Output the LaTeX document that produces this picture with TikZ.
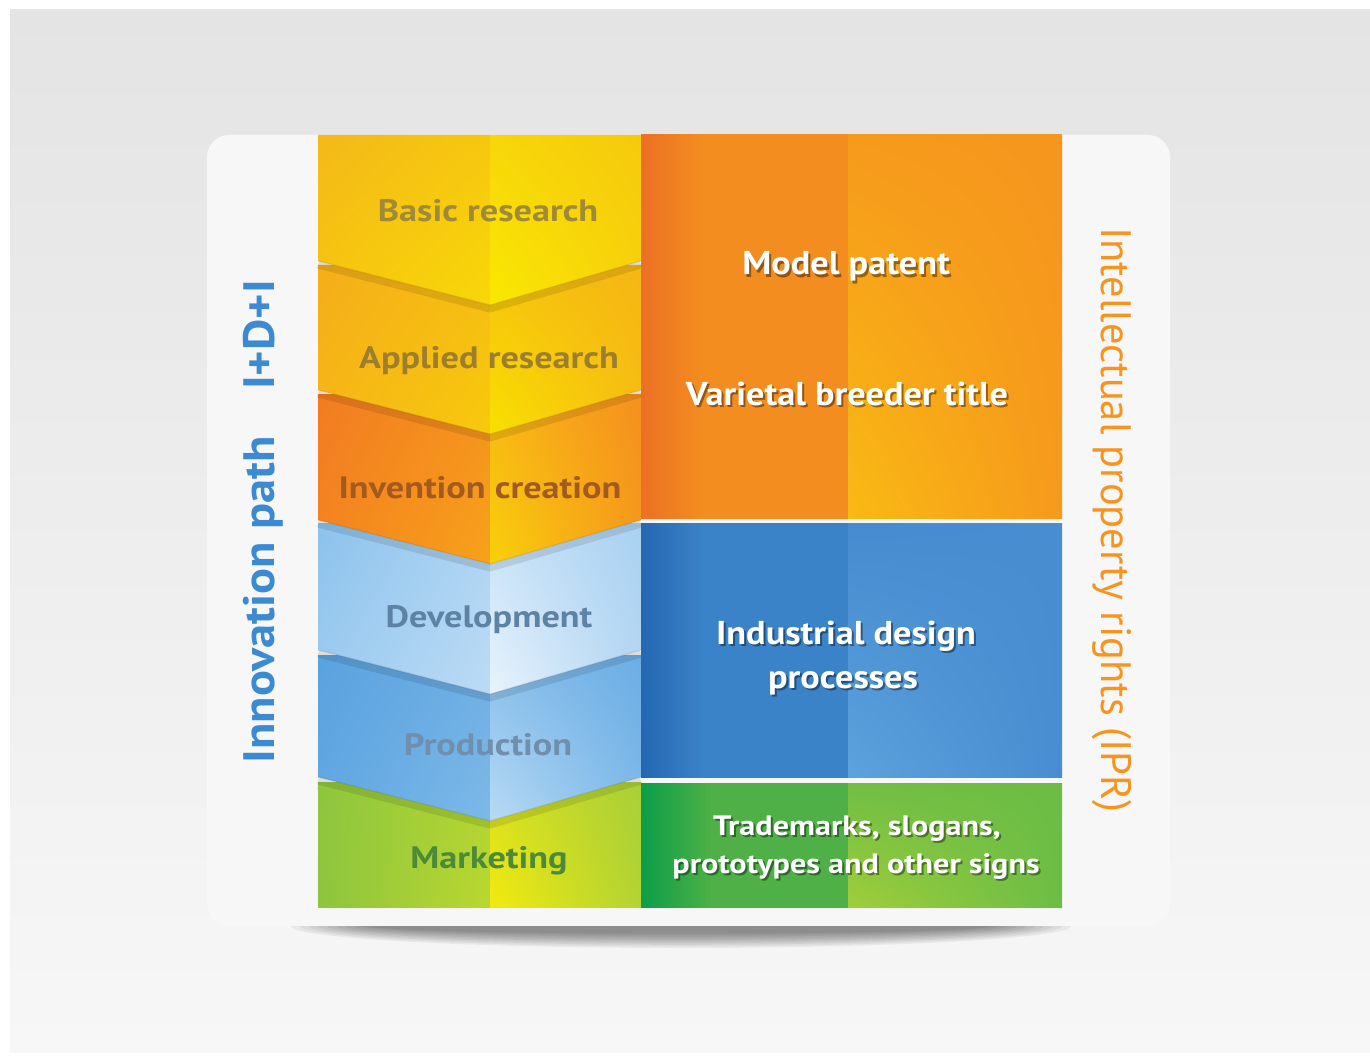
\documentclass[tikz,border=0pt]{standalone}
\usepackage{fontspec}
\setmainfont{PT Sans}
\newfontfamily\widesans[FakeStretch=1.17]{PT Sans}
\newfontfamily\midsans[FakeStretch=1.10]{PT Sans}
\newfontfamily\smallsans[FakeStretch=1.15]{PT Sans}
\usetikzlibrary{shadings}

% palette
\definecolor{pathblue}{HTML}{3B8AD2}
\definecolor{iprorange}{HTML}{F7941D}
\definecolor{cardwhite}{HTML}{F7F7F7}
\definecolor{orangeedge}{RGB}{236,112,36}
\definecolor{orangemain}{RGB}{243,141,32}
\definecolor{blueedge}{RGB}{36,104,178}
\definecolor{bluemain}{RGB}{59,131,201}
\definecolor{greenedge}{RGB}{12,158,72}
\definecolor{greenmain}{RGB}{78,176,70}

% darker strip along the left edge of each rights block (bbox spans 25bp..75bp)
\pgfdeclarehorizontalshading{orangeleft}{100bp}{color(0bp)=(orangeedge); color(25bp)=(orangeedge); color(40bp)=(orangemain); color(100bp)=(orangemain)}
\pgfdeclarehorizontalshading{blueleft}{100bp}{color(0bp)=(blueedge); color(25bp)=(blueedge); color(40bp)=(bluemain); color(100bp)=(bluemain)}
\pgfdeclarehorizontalshading{greenleft}{100bp}{color(0bp)=(greenedge); color(25bp)=(greenedge); color(42bp)=(greenmain); color(100bp)=(greenmain)}

\tikzset{
  stagelabel/.style={font=\widesans\bfseries\fontsize{31}{31}\selectfont, anchor=base, inner sep=0pt},
  rightlabel/.style={font=\midsans\bfseries\fontsize{33}{33}\selectfont, anchor=base, inner sep=0pt, text=white},
  smalllabel/.style={font=\smallsans\bfseries\fontsize{28}{28}\selectfont, anchor=base, inner sep=0pt, text=white},
  dropshadow/.style={text=black, opacity=0.4},
  sidelabel/.style={font=\midsans\bfseries\fontsize{44}{44}\selectfont, anchor=base, inner sep=0pt, text=pathblue, rotate=90},
  iprlabel/.style={font=\fontsize{42.5}{42.5}\selectfont, anchor=base, inner sep=0pt, text=iprorange, rotate=-90},
  foldshadow/.style={draw=black, opacity=0.10, line width=7pt, line join=round},
}

% #1 top, #2 side bottom, #3 left-half corner colours, #4 right-half corner colours
\newcommand\chevronblock[4]{%
  \draw[foldshadow] (318,#2+4) -- (490,#2+48) -- (641,#2+4);
  \shade[#3] (318,#1) -- (490,#1) -- (490,#2+44) -- (318,#2) -- cycle;
  \shade[#4] (490,#1) -- (641,#1) -- (641,#2) -- (490,#2+44) -- cycle;
  \draw[black, opacity=0.10, line width=1.2pt] (318,#2) -- (490,#2+44) -- (641,#2);
}

\begin{document}
\begin{tikzpicture}[x=1pt,y=-1pt]
\useasboundingbox (0,0) rectangle (1370,1059);
\fill[white] (0,0) rectangle (1370,1059);

% backdrop
\shade[top color={rgb,255:red,228;green,228;blue,228}, middle color={rgb,255:red,237;green,237;blue,237},
       bottom color=cardwhite] (10,10) rectangle (1370,1052);

% card
\fill[cardwhite, rounded corners=22pt] (207,135) rectangle (1170,926);

% soft shadow under the card edge
\begin{scope}
  \clip (250,926) rectangle (1120,970);
  \foreach \r in {0,...,9}
    \fill[black, opacity=0.05] (681,926) ellipse ({390-9*\r} and {22-1.6*\r});
\end{scope}

% ---------- stage column ----------
% marketing (flat bottom)
\draw[foldshadow] (318,786) -- (490,830) -- (641,786);
\shade[upper left={rgb,255:red,142;green,198;blue,63}, upper right={rgb,255:red,178;green,213;blue,50},
       lower left={rgb,255:red,141;green,197;blue,62}, lower right={rgb,255:red,186;green,215;blue,47}]
  (318,782) rectangle (490,907);
\shade[upper left={rgb,255:red,214;green,223;blue,34}, upper right={rgb,255:red,169;green,207;blue,56},
       lower left={rgb,255:red,242;green,234;blue,14}, lower right={rgb,255:red,178;green,211;blue,52}]
  (490,782) rectangle (641,907);

\chevronblock{655}{777}
  {upper left={rgb,255:red,90;green,162;blue,223}, upper right={rgb,255:red,109;green,174;blue,228},
   lower left={rgb,255:red,98;green,168;blue,226}, lower right={rgb,255:red,125;green,185;blue,232}}
  {upper left={rgb,255:red,134;green,190;blue,235}, upper right={rgb,255:red,107;green,173;blue,228},
   lower left={rgb,255:red,184;green,218;blue,244}, lower right={rgb,255:red,128;green,187;blue,234}}

\chevronblock{523}{650}
  {upper left={rgb,255:red,140;green,194;blue,236}, upper right={rgb,255:red,174;green,212;blue,242},
   lower left={rgb,255:red,158;green,204;blue,240}, lower right={rgb,255:red,187;green,219;blue,245}}
  {upper left={rgb,255:red,198;green,225;blue,247}, upper right={rgb,255:red,169;green,209;blue,241},
   lower left={rgb,255:red,232;green,243;blue,252}, lower right={rgb,255:red,181;green,215;blue,243}}

\chevronblock{394}{520}
  {upper left={rgb,255:red,242;green,124;blue,33}, upper right={rgb,255:red,245;green,146;blue,29},
   lower left={rgb,255:red,244;green,133;blue,31}, lower right={rgb,255:red,247;green,162;blue,26}}
  {upper left={rgb,255:red,248;green,182;blue,22}, upper right={rgb,255:red,245;green,144;blue,30},
   lower left={rgb,255:red,249;green,208;blue,10}, lower right={rgb,255:red,245;green,154;blue,28}}

\chevronblock{265}{390}
  {upper left={rgb,255:red,245;green,174;blue,26}, upper right={rgb,255:red,246;green,189;blue,18},
   lower left={rgb,255:red,246;green,183;blue,22}, lower right={rgb,255:red,247;green,201;blue,12}}
  {upper left={rgb,255:red,246;green,194;blue,14}, upper right={rgb,255:red,246;green,182;blue,20},
   lower left={rgb,255:red,248;green,224;blue,0}, lower right={rgb,255:red,246;green,190;blue,18}}

\chevronblock{135}{261}
  {upper left={rgb,255:red,244;green,185;blue,26}, upper right={rgb,255:red,246;green,199;blue,14},
   lower left={rgb,255:red,247;green,198;blue,13}, lower right={rgb,255:red,248;green,216;blue,10}}
  {upper left={rgb,255:red,247;green,214;blue,10}, upper right={rgb,255:red,246;green,202;blue,12},
   lower left={rgb,255:red,249;green,232;blue,0}, lower right={rgb,255:red,247;green,210;blue,12}}

% ---------- rights column ----------
% model patent / varietal breeder title
\shade[shading=orangeleft] (641,135) rectangle (848,518);
\shade[upper left={rgb,255:red,246;green,154;blue,28}, upper right={rgb,255:red,246;green,150;blue,29},
       lower left={rgb,255:red,249;green,186;blue,19}, lower right={rgb,255:red,246;green,154;blue,28}]
  (848,135) rectangle (1062,518);

% industrial design
\shade[shading=blueleft] (641,523) rectangle (848,777);
\shade[upper left={rgb,255:red,70;green,139;blue,207}, upper right={rgb,255:red,72;green,141;blue,208},
       lower left={rgb,255:red,92;green,162;blue,221}, lower right={rgb,255:red,72;green,141;blue,208}]
  (848,523) rectangle (1062,777);

% trademarks
\shade[shading=greenleft] (641,783) rectangle (848,907);
\shade[upper left={rgb,255:red,112;green,190;blue,68}, upper right={rgb,255:red,108;green,189;blue,69},
       lower left={rgb,255:red,160;green,206;blue,58}, lower right={rgb,255:red,108;green,189;blue,69}]
  (848,783) rectangle (1062,907);

% ---------- stage labels ----------
\node[stagelabel, text={rgb,255:red,160;green,138;blue,53}]  (basic)  at (488,222) {Basic research};
\node[stagelabel, text={rgb,255:red,156;green,126;blue,44}]  (applied) at (489,368) {Applied research};
\node[stagelabel, text={rgb,255:red,163;green,90;blue,30}]   (invent)  at (480,498) {Invention creation};
\node[stagelabel, text={rgb,255:red,92;green,131;blue,163}]  (devel)   at (489,627) {Development};
\node[stagelabel, text={rgb,255:red,112;green,143;blue,173}] (prod)    at (488,755) {Production};
\node[stagelabel, text={rgb,255:red,76;green,138;blue,58}]   (market)  at (489,868) {Marketing};

% ---------- rights labels (white with drop shadow) ----------
\node[rightlabel, dropshadow] (model-sh)  at (848,277) {Model patent};
\node[rightlabel]             (model)     at (846,275) {Model patent};
\node[rightlabel, dropshadow] (variet-sh) at (849,407) {Varietal breeder title};
\node[rightlabel]             (variet)    at (847,405) {Varietal breeder title};
\node[rightlabel, dropshadow] (indus-sh)  at (848,646) {Industrial design};
\node[rightlabel]             (indus)     at (846,644) {Industrial design};
\node[rightlabel, dropshadow] (proc-sh)   at (845,690) {processes};
\node[rightlabel]             (proc)      at (843,688) {processes};
\node[smalllabel, dropshadow] (trade-sh)  at (859,837) {Trademarks, slogans,};
\node[smalllabel]             (trade)     at (857,835) {Trademarks, slogans,};
\node[smalllabel, dropshadow] (proto-sh)  at (858,875) {prototypes and other signs};
\node[smalllabel]             (proto)     at (856,873) {prototypes and other signs};

% ---------- side titles ----------
\node[sidelabel] (innov) at (274,600) {Innovation path};
\node[sidelabel] (idi)   at (274,335) {I+D+I};
\node[iprlabel]  (ipr)   at (1101,520) {Intellectual property rights (IPR)};
\end{tikzpicture}
\end{document}
